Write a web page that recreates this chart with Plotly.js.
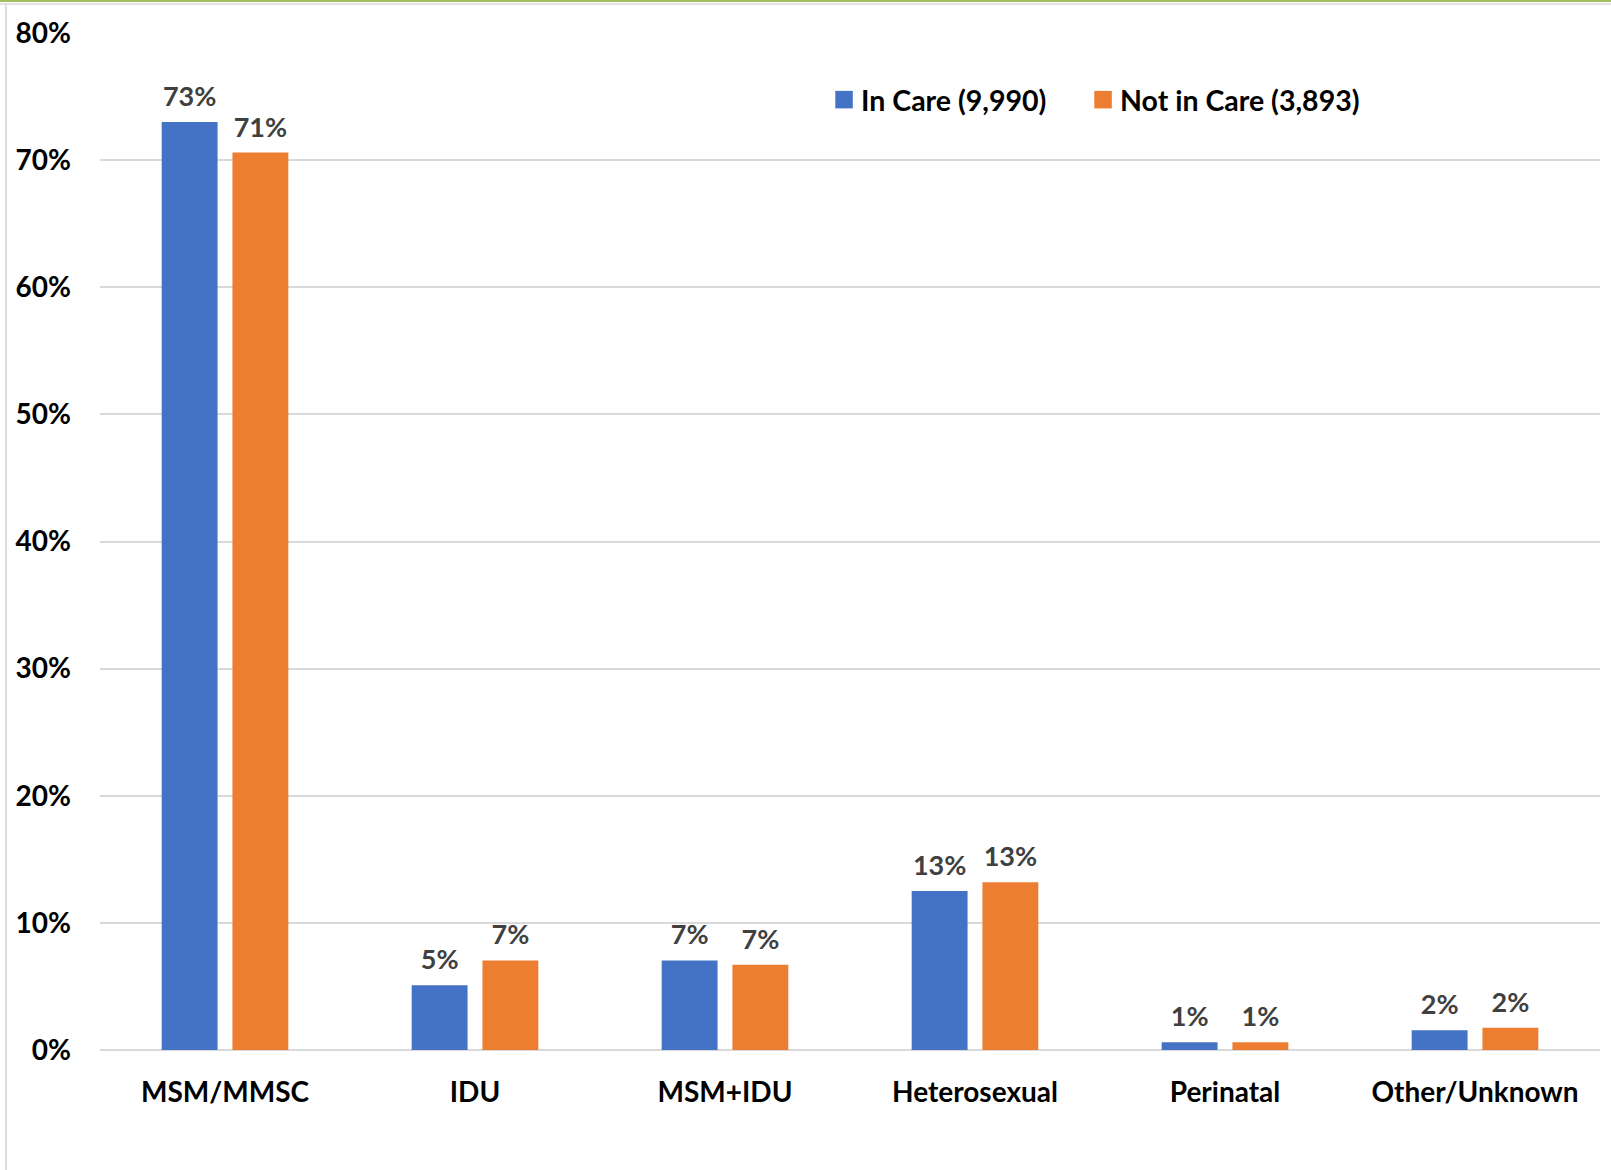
<!DOCTYPE html>
<html>
<head>
<meta charset="utf-8">
<script src="https://cdn.plot.ly/plotly-3.0.1.min.js"></script>
<style>
  html, body { margin: 0; padding: 0; background: #ffffff; }
  #wrap { position: relative; width: 1611px; height: 1170px; overflow: hidden; }
  #chart { position: absolute; left: 0; top: 0; width: 1611px; height: 1170px; }
  .deco { position: absolute; pointer-events: none; }
</style>
</head>
<body>
<div id="wrap">
  <div id="chart"></div>
  <div class="deco" style="left:0;top:0;width:1611px;height:2px;background:#a3bf5c;"></div>
  <div class="deco" style="left:0;top:3px;width:1611px;height:2px;background:#e2e2e2;"></div>
  <div class="deco" style="left:5px;top:4px;width:2px;height:1166px;background:#dcdcdc;"></div>
</div>
<script>
// Data (percent of persons)
const categories = ["MSM/MMSC", "IDU", "MSM+IDU", "Heterosexual", "Perinatal", "Other/Unknown"];
const inCare = [73.0, 5.1, 7.05, 12.5, 0.6, 1.55];
const notInCare = [70.6, 7.05, 6.7, 13.2, 0.6, 1.75];
const seriesNames = ["In Care (9,990)", "Not in Care (3,893)"];
const yTicks = [0, 10, 20, 30, 40, 50, 60, 70, 80];

const FONT = "Lato, 'Open Sans', sans-serif";
const pct = v => Math.round(v) + "%";

const traces = [
  {
    type: "bar", name: seriesNames[0], x: categories, y: inCare,
    text: inCare.map(pct), textposition: "outside", cliponaxis: false,
    textfont: { family: FONT, size: 27, color: "#404040", weight: 700 },
    marker: { color: "#4472C4" }, hoverinfo: "x+y"
  },
  {
    type: "bar", name: seriesNames[1], x: categories, y: notInCare,
    text: notInCare.map(pct), textposition: "outside", cliponaxis: false,
    textfont: { family: FONT, size: 27, color: "#404040", weight: 700 },
    marker: { color: "#ED7D31" }, hoverinfo: "x+y"
  }
];

const layout = {
  width: 1611, height: 1170,
  margin: { l: 100, r: 11, t: 33, b: 120 },
  paper_bgcolor: "rgba(0,0,0,0)", plot_bgcolor: "rgba(0,0,0,0)",
  font: { family: FONT, color: "#000000" },
  barmode: "group", bargap: 0.434, bargroupgap: 0.21,
  showlegend: true,
  legend: {
    orientation: "h", x: 0.4807, xanchor: "left", y: 0.934, yanchor: "middle",
    font: { family: FONT, size: 28.5, color: "#000000", weight: 700 },
    entrywidth: 214, entrywidthmode: "pixels",
    bgcolor: "rgba(0,0,0,0)", borderwidth: 0, traceorder: "normal"
  },
  xaxis: {
    type: "category", showgrid: false, showline: false, ticks: "",
    tickfont: { family: FONT, size: 28, color: "#000000", weight: 700 },
    ticklabelstandoff: 23, fixedrange: true
  },
  yaxis: {
    range: [0, 80], tickvals: yTicks, ticktext: yTicks.map(v => v + "%"),
    showgrid: true, gridcolor: "#d9d9d9", gridwidth: 2,
    zeroline: true, zerolinecolor: "#d9d9d9", zerolinewidth: 2,
    showline: false, ticks: "",
    tickfont: { family: FONT, size: 28, color: "#000000", weight: 700 },
    ticklabelstandoff: 28, fixedrange: true
  }
};

Plotly.newPlot("chart", traces, layout, { displayModeBar: false, staticPlot: true }).then(gd => {
  // let the last legend entry overflow its fixed entry width instead of being clipped
  gd.querySelectorAll(".legend [clip-path]").forEach(el => el.removeAttribute("clip-path"));
  // enlarge legend swatches to match the reference's square markers
  gd.querySelectorAll(".legend .legendpoints path").forEach(p => {
    p.setAttribute("transform", "translate(23,0) scale(1.46)");
  });
  // lift value labels a little higher above the bars
  gd.querySelectorAll(".bars .point text").forEach(t => {
    t.setAttribute("transform", "translate(0,-7) " + (t.getAttribute("transform") || ""));
  });
});
</script>
</body>
</html>
